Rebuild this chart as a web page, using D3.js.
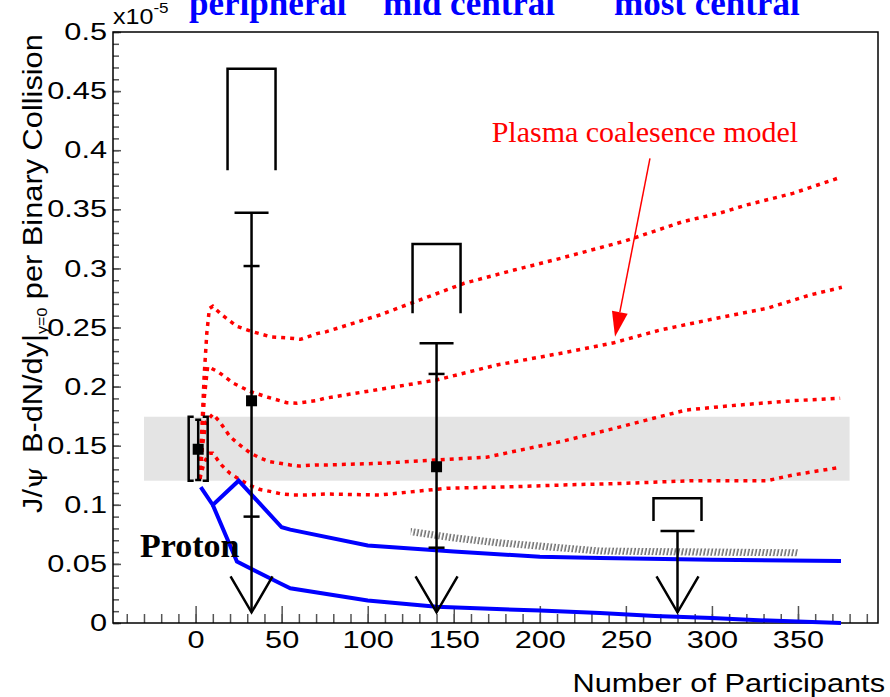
<!DOCTYPE html>
<html><head><meta charset="utf-8">
<script src="https://cdn.jsdelivr.net/npm/d3@7"></script>
<style>
html,body{margin:0;padding:0;background:#fff;}
svg{display:block;}
</style></head>
<body>
<svg id="chart" width="890" height="697"></svg>
<script>
// J/psi yield per binary collision vs. number of participants (values in units of 1e-5)

// ---- axis ticks ----
const yMajorTicks = [0, 0.05, 0.1, 0.15, 0.2, 0.25, 0.3, 0.35, 0.4, 0.45, 0.5];
const yMinorTicks = d3.range(0, 51).map(i => i / 100);
const xMajorTicks = [0, 50, 100, 150, 200, 250, 300, 350];
const xMinorTicks = d3.range(-40, 400, 10);

// ---- Au+Au centrality classes ----
const classNames    = ["peripheral", "mid central", "most central"];
const classNpart    = [32.5, 140, 280];
const classValue    = [0.188, 0.1322, null];
const classStatHigh = [0.302, 0.2107, null];
const classStatLow  = [0.090, 0.0637, null];
const classLimit    = [0.347, 0.2366, 0.0778];
const classSysLow   = [0.383, 0.262, 0.0863];
const classSysHigh  = [0.469, 0.3206, 0.1055];
const classArrowTo  = [0.009, 0.009, 0.009];

// ---- p+p reference ----
const protonNpart = 1.5;
const protonValue = 0.147;
const protonStat  = [0.121, 0.172];
const protonSys   = [0.1204, 0.1745];
const protonBandNpart = [-30, 380];

// ---- plasma coalescence model curves [Npart, yield] ----
const coalA = [[2.5,0.122],[3.5,0.16],[5,0.21],[6.5,0.245],[8,0.266],[10,0.268],[15,0.261],[24,0.251],[33,0.2465],[44,0.242],[55,0.241],[61,0.240],[71,0.245],[76,0.2465],[107,0.2606],[156,0.2874],[185,0.2986],[212,0.3085],[250,0.3234],[283,0.3395],[305,0.347],[320,0.3536],[347,0.3635],[373,0.3762]];
const coalB = [[2.5,0.122],[3.5,0.15],[5,0.19],[7,0.217],[13,0.2126],[22,0.2028],[32,0.1957],[42,0.191],[53,0.1864],[59,0.1859],[70,0.1881],[75,0.1901],[107,0.1977],[140,0.2056],[175,0.2183],[214,0.2287],[243,0.2371],[270,0.2479],[307,0.2591],[332,0.2662],[357,0.2775],[375.5,0.284]];
const coalC = [[2.5,0.122],[4,0.15],[6,0.17],[10,0.1768],[14,0.1703],[20,0.1576],[25,0.1514],[32,0.1436],[38,0.1393],[43,0.1365],[49,0.1351],[55,0.1337],[60,0.1328],[70,0.1337],[76,0.1337],[107,0.1351],[140,0.1379],[169,0.1402],[189,0.1464],[212,0.1534],[241,0.1638],[266,0.1732],[285,0.1802],[309,0.1836],[347,0.1881],[374.5,0.1901]];
const coalD = [[2.5,0.122],[5,0.136],[8,0.1436],[10,0.1436],[15,0.1337],[20,0.1266],[26,0.121],[31,0.1168],[37,0.1131],[44,0.1111],[50,0.1091],[57,0.1083],[64,0.1083],[76,0.1091],[107,0.1083],[146,0.114],[185,0.1153],[214,0.1168],[250,0.1182],[289,0.1204],[332,0.1204],[347,0.1252],[374.5,0.1317]];

// ---- proton curves (blue) ----
const protonUpper = [[3,0.115],[10,0.0998],[25,0.1204],[50,0.081],[55,0.079],[100,0.0655],[150,0.0605],[200,0.056],[235,0.055],[300,0.0535],[375,0.0525]];
const protonLower = [[10,0.0998],[24,0.052],[49,0.0336],[55,0.0294],[100,0.019],[140,0.0138],[200,0.0105],[235,0.0085],[267,0.006],[300,0.0042],[324,0.0025],[375,0.0]];

// ---- hatched band ----
const hatchNpart = [125, 150, 175, 200, 235, 260, 300, 350];
const hatchHigh  = [0.0803, 0.075, 0.071, 0.068, 0.0639, 0.0635, 0.063, 0.0625];
const hatchLow   = [0.0743, 0.069, 0.065, 0.062, 0.0579, 0.0575, 0.057, 0.0565];

// ---- annotation ----
const modelLabel = "Plasma coalesence model";
const modelLabelAt = [172, 0.407];
const modelArrowFrom = [264, 0.393];
const modelArrowTo = [243.7, 0.2422];
const protonLabel = "Proton";
const protonLabelAt = [-32.3, 0.0561];

const svg = d3.select("#chart");
const sans = "'Liberation Sans', Arial, Helvetica, sans-serif";
const serif = "'Liberation Serif', 'Times New Roman', serif";
const K = 1.28;   // horizontal widening of the tick labels
const KT = 1.14;  // horizontal widening of the axis titles

const x = d3.scaleLinear().domain([-48, 396.5]).range([113, 878]);
const y = d3.scaleLinear().domain([0, 0.5]).range([623, 32]);

// shaded p+p systematic band
svg.append("rect")
  .attr("x", x(protonBandNpart[0])).attr("width", x(protonBandNpart[1]) - x(protonBandNpart[0]))
  .attr("y", y(protonSys[1])).attr("height", y(protonSys[0]) - y(protonSys[1]))
  .attr("fill", "#e4e4e4");

// axes
const fmtY = d => d === 0 ? "0" : String(+d.toFixed(2));
const tickCol = "#555";

const yMinor = svg.append("g").attr("transform", `translate(${x.range()[0]},0)`)
  .call(d3.axisLeft(y).tickValues(yMinorTicks).tickSize(-6).tickFormat(""));
yMinor.select(".domain").remove();
yMinor.selectAll("line").attr("stroke", tickCol).attr("stroke-width", 1.5);

const yAxis = svg.append("g").attr("transform", `translate(${x.range()[0]},0)`)
  .call(d3.axisLeft(y).tickValues(yMajorTicks).tickSize(-8).tickPadding(6).tickFormat(fmtY));
yAxis.attr("font-family", sans).attr("font-size", 24);
yAxis.select(".domain").remove();
yAxis.selectAll("line").attr("stroke", tickCol).attr("stroke-width", 1.5);
yAxis.selectAll("text").attr("fill", "#000").attr("x", -6 / K).attr("transform", `scale(${K},1)`);

const xMinor = svg.append("g").attr("transform", `translate(0,${y.range()[0]})`)
  .call(d3.axisBottom(x).tickValues(xMinorTicks).tickSize(-9).tickFormat(""));
xMinor.select(".domain").remove();
xMinor.selectAll("line").attr("stroke", tickCol).attr("stroke-width", 1.5);

const xAxis = svg.append("g").attr("transform", `translate(0,${y.range()[0]})`)
  .call(d3.axisBottom(x).tickValues(xMajorTicks).tickSize(-17).tickPadding(8).tickFormat(d3.format("d")));
xAxis.attr("font-family", sans).attr("font-size", 24);
xAxis.select(".domain").remove();
xAxis.selectAll("line").attr("stroke", tickCol).attr("stroke-width", 1.5);
xAxis.selectAll("text").attr("fill", "#000").attr("x", 0).attr("transform", `scale(${K},1)`);

// frame
svg.append("rect")
  .attr("x", x.range()[0]).attr("y", y.range()[1])
  .attr("width", x.range()[1] - x.range()[0]).attr("height", y.range()[0] - y.range()[1])
  .attr("fill", "none").attr("stroke", "#000").attr("stroke-width", 1.5);

// axis titles
svg.append("text")
  .attr("transform", `translate(885,692) scale(1.16,1)`)
  .attr("text-anchor", "end").attr("font-family", sans).attr("font-size", 26.5)
  .text("Number of Participants");

const yTitle = svg.append("text")
  .attr("transform", `translate(42,513) rotate(-90) scale(${KT},1)`)
  .attr("font-family", sans).attr("font-size", 27);
yTitle.append("tspan").text("J/");
yTitle.append("tspan").attr("font-family", "'DejaVu Serif', serif").attr("font-size", 25).text("\u03C8");
yTitle.append("tspan").attr("dx", 12).text("B-dN/dy|");
yTitle.append("tspan").attr("font-size", 14).attr("dy", 5).text("y=0");
yTitle.append("tspan").attr("dy", -5).text(" per Binary Collision");

// exponent
const expo = svg.append("text")
  .attr("transform", `translate(113,24) scale(${KT},1)`)
  .attr("font-family", sans).attr("font-size", 22);
expo.append("tspan").text("x10");
expo.append("tspan").attr("font-size", 15).attr("dy", -11).text("-5");

// model curves
const line = d3.line().x(d => x(d[0])).y(d => y(d[1]));
svg.append("g").selectAll("path").data([coalA, coalB, coalC, coalD]).join("path")
  .attr("d", line).attr("fill", "none").attr("stroke", "#ff0000")
  .attr("stroke-width", 3.5).attr("stroke-dasharray", "4 5");

// hatched band
const defs = svg.append("defs");
const pat = defs.append("pattern").attr("id", "hatch").attr("patternUnits", "userSpaceOnUse")
  .attr("width", 3.6).attr("height", 10).attr("patternTransform", "rotate(12)");
pat.append("line").attr("x1", 1).attr("x2", 1).attr("y1", 0).attr("y2", 10)
  .attr("stroke", "#222").attr("stroke-width", 1);
const hatchArea = d3.area()
  .x((d, i) => x(hatchNpart[i])).y0((d, i) => y(hatchLow[i])).y1((d, i) => y(hatchHigh[i]));
svg.append("path").attr("d", hatchArea(hatchNpart)).attr("fill", "url(#hatch)");

// proton curves
svg.append("g").selectAll("path").data([protonUpper, protonLower]).join("path")
  .attr("d", line).attr("fill", "none").attr("stroke", "#0000ff").attr("stroke-width", 4);

// Au+Au measurements
const ink = "#000", lw = 2.5;
const g = svg.append("g").attr("stroke", ink).attr("stroke-width", lw).attr("fill", "none");
classNpart.forEach((n, i) => {
  const cx = x(n);
  const tip = y(classArrowTo[i]);
  // vertical bar down to the arrow
  g.append("line").attr("x1", cx).attr("x2", cx).attr("y1", y(classLimit[i])).attr("y2", tip);
  // limit cap
  g.append("line").attr("x1", cx - 17).attr("x2", cx + 17).attr("y1", y(classLimit[i])).attr("y2", y(classLimit[i]));
  // statistical ticks
  [classStatHigh[i], classStatLow[i]].forEach(v => {
    if (v == null) return;
    g.append("line").attr("x1", cx - 8).attr("x2", cx + 8).attr("y1", y(v)).attr("y2", y(v));
  });
  // arrow head
  g.append("path").attr("d", `M${cx - 21},${tip - 36}L${cx},${tip}L${cx + 21},${tip - 36}`);
  // systematic bracket
  g.append("path").attr("d",
    `M${cx - 24},${y(classSysLow[i])}V${y(classSysHigh[i])}H${cx + 24}V${y(classSysLow[i])}`);
  // marker
  if (classValue[i] != null) {
    svg.append("rect").attr("x", cx - 5.5).attr("y", y(classValue[i]) - 5.5)
      .attr("width", 11).attr("height", 11).attr("fill", ink);
  }
});

// p+p point
const px = x(protonNpart);
const sTop = y(protonSys[1]), sBot = y(protonSys[0]);
g.append("path").attr("d",
  `M${px - 4.5},${sTop}H${px - 9.5}V${sBot}H${px - 4.5}M${px + 4.5},${sTop}H${px + 9.5}V${sBot}H${px + 4.5}`);
g.append("line").attr("x1", px).attr("x2", px).attr("y1", y(protonStat[1])).attr("y2", y(protonStat[0]));
g.append("path").attr("d",
  `M${px - 3},${y(protonStat[1])}H${px + 3}M${px - 3},${y(protonStat[0])}H${px + 3}`);
svg.append("rect").attr("x", px - 5.5).attr("y", y(protonValue) - 5.5)
  .attr("width", 11).attr("height", 11).attr("fill", ink);

// model label and pointer
svg.append("text").attr("x", x(modelLabelAt[0])).attr("y", y(modelLabelAt[1]))
  .attr("font-family", serif).attr("font-size", 30).attr("fill", "#ff0000").text(modelLabel);
{
  const x0 = x(modelArrowFrom[0]), y0 = y(modelArrowFrom[1]);
  const x1 = x(modelArrowTo[0]), y1 = y(modelArrowTo[1]);
  const L = Math.hypot(x1 - x0, y1 - y0), ux = (x1 - x0) / L, uy = (y1 - y0) / L;
  const hl = 25, hw = 8;
  const bx = x1 - ux * hl, by = y1 - uy * hl;
  svg.append("line").attr("x1", x0).attr("y1", y0).attr("x2", bx).attr("y2", by)
    .attr("stroke", "#ff0000").attr("stroke-width", 1.5);
  svg.append("path")
    .attr("d", `M${x1},${y1}L${bx - uy * hw},${by + ux * hw}L${bx + uy * hw},${by - ux * hw}Z`)
    .attr("fill", "#ff0000");
}

// proton label
svg.append("text").attr("x", x(protonLabelAt[0])).attr("y", y(protonLabelAt[1]))
  .attr("font-family", serif).attr("font-weight", "bold").attr("font-size", 34).text(protonLabel);

// centrality class headings along the top edge
const headX = [189, 383, 614];
svg.append("g").selectAll("text").data(classNames).join("text")
  .attr("x", (d, i) => headX[i]).attr("y", 15)
  .attr("font-family", serif).attr("font-weight", "bold").attr("font-size", 35)
  .attr("fill", "#0000ff").text(d => d);
</script>
</body></html>
